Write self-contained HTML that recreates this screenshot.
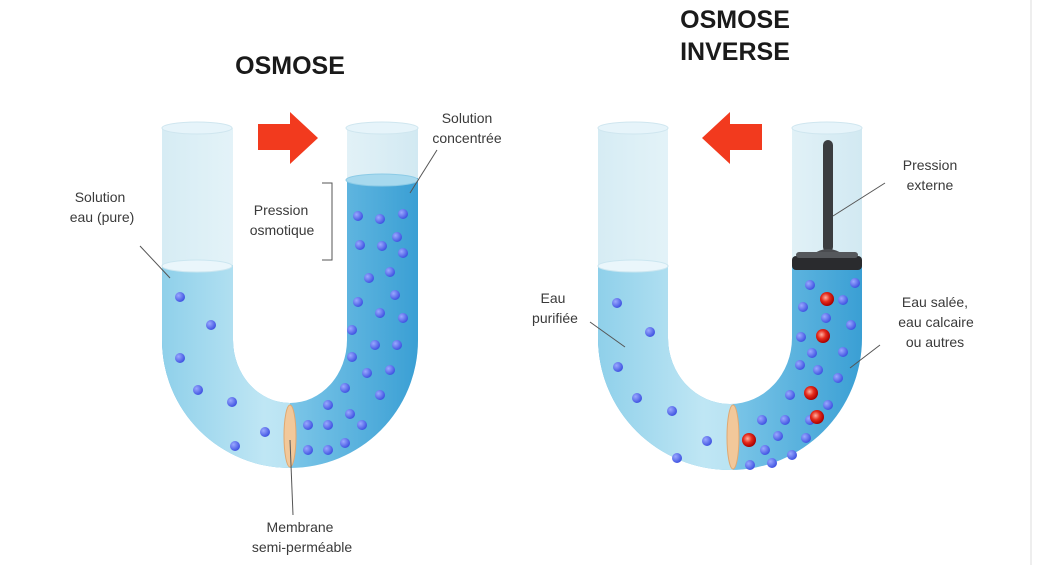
<!DOCTYPE html>
<html><head><meta charset="utf-8"><style>
html,body{margin:0;padding:0;background:#fff;}
svg{display:block}
.t{font-family:"Liberation Sans Narrow","Liberation Sans",sans-serif;font-size:14px;fill:#3a3a3a;text-anchor:middle}
.h{font-family:"Liberation Sans",sans-serif;font-weight:bold;font-size:25px;fill:#1a1a1a;text-anchor:middle}
</style></head><body>
<svg width="1040" height="565" viewBox="0 0 1040 565">
<defs>
<linearGradient id="glass" x1="0" x2="1">
<stop offset="0" stop-color="#d6ecf4"/><stop offset="0.5" stop-color="#eef8fb"/><stop offset="1" stop-color="#d2e9f2"/>
</linearGradient>
<linearGradient id="wl" x1="0" x2="1">
<stop offset="0" stop-color="#8fd0ea"/><stop offset="0.4" stop-color="#bfe6f4"/><stop offset="1" stop-color="#9fd6ec"/>
</linearGradient>
<linearGradient id="wr" x1="0" x2="1">
<stop offset="0" stop-color="#4fb0de"/><stop offset="0.5" stop-color="#7cc6e8"/><stop offset="1" stop-color="#3a9fd4"/>
</linearGradient>
<radialGradient id="dot" cx="0.35" cy="0.35" r="0.7"><stop offset="0" stop-color="#9aa8ff"/><stop offset="1" stop-color="#3b4fe0"/></radialGradient>
<radialGradient id="red" cx="0.4" cy="0.4" r="0.6"><stop offset="0" stop-color="#ffb0a0"/><stop offset="0.5" stop-color="#e52b1c"/><stop offset="1" stop-color="#a00"/></radialGradient>
<clipPath id="cl1"><rect x="0" y="265" width="290" height="300"/><rect x="290" y="178" width="200" height="400"/></clipPath>
<clipPath id="cl2"><rect x="500" y="265" width="233" height="300"/><rect x="733" y="265" width="200" height="400"/></clipPath>
<clipPath id="cll1"><rect x="0" y="0" width="290" height="565"/></clipPath>
<clipPath id="cll2"><rect x="500" y="0" width="233" height="565"/></clipPath>
</defs>

<g>
<path d="M162 128 V340 A128 128 0 0 0 418 340 V128 H347 V340 A57 63 0 0 1 233 340 V128 Z" fill="url(#glass)"/>
<g clip-path="url(#cl1)">
<path d="M162 128 V340 A128 128 0 0 0 418 340 V128 H347 V340 A57 63 0 0 1 233 340 V128 Z" fill="url(#wr)"/>
<g clip-path="url(#cll1)"><path d="M162 128 V340 A128 128 0 0 0 418 340 V128 H347 V340 A57 63 0 0 1 233 340 V128 Z" fill="url(#wl)"/></g>
</g>
<ellipse cx="197" cy="128" rx="35" ry="6" fill="#e6f4fa" stroke="#cfe6ef"/>
<ellipse cx="382" cy="128" rx="36" ry="6" fill="#e6f4fa" stroke="#cfe6ef"/>
<ellipse cx="197" cy="266" rx="35" ry="6" fill="#eaf6fb" stroke="#cbe6f0"/>
<ellipse cx="382" cy="180" rx="36" ry="6" fill="#a7d9ee" stroke="#8ccbe6"/>
<ellipse cx="290" cy="436" rx="6" ry="31" fill="#f2c89a" stroke="#e0a870"/>
</g>
<g fill="url(#dot)">
<circle cx="180" cy="297" r="5"/><circle cx="211" cy="325" r="5"/><circle cx="180" cy="358" r="5"/><circle cx="198" cy="390" r="5"/><circle cx="232" cy="402" r="5"/><circle cx="265" cy="432" r="5"/><circle cx="235" cy="446" r="5"/>
<circle cx="358" cy="216" r="5"/><circle cx="380" cy="219" r="5"/><circle cx="403" cy="214" r="5"/><circle cx="360" cy="245" r="5"/><circle cx="382" cy="246" r="5"/><circle cx="397" cy="237" r="5"/><circle cx="403" cy="253" r="5"/>
<circle cx="369" cy="278" r="5"/><circle cx="390" cy="272" r="5"/><circle cx="358" cy="302" r="5"/><circle cx="395" cy="295" r="5"/><circle cx="380" cy="313" r="5"/><circle cx="403" cy="318" r="5"/>
<circle cx="352" cy="330" r="5"/><circle cx="375" cy="345" r="5"/><circle cx="397" cy="345" r="5"/><circle cx="352" cy="357" r="5"/><circle cx="367" cy="373" r="5"/><circle cx="390" cy="370" r="5"/><circle cx="345" cy="388" r="5"/><circle cx="380" cy="395" r="5"/>
<circle cx="328" cy="405" r="5"/><circle cx="350" cy="414" r="5"/><circle cx="308" cy="425" r="5"/><circle cx="328" cy="425" r="5"/><circle cx="362" cy="425" r="5"/><circle cx="308" cy="450" r="5"/><circle cx="328" cy="450" r="5"/><circle cx="345" cy="443" r="5"/>
</g>
<polygon points="258,124 290,124 290,112 318,138 290,164 290,150 258,150" fill="#f23a1e"/>

<g>
<path d="M598 128 V338 A132 132 0 0 0 862 338 V128 H792 V338 A62 66 0 0 1 668 338 V128 Z" fill="url(#glass)"/>
<g clip-path="url(#cl2)">
<path d="M598 128 V338 A132 132 0 0 0 862 338 V128 H792 V338 A62 66 0 0 1 668 338 V128 Z" fill="url(#wr)"/>
<g clip-path="url(#cll2)"><path d="M598 128 V338 A132 132 0 0 0 862 338 V128 H792 V338 A62 66 0 0 1 668 338 V128 Z" fill="url(#wl)"/></g>
</g>
<ellipse cx="633" cy="128" rx="35" ry="6" fill="#e6f4fa" stroke="#cfe6ef"/>
<ellipse cx="827" cy="128" rx="35" ry="6" fill="#e6f4fa" stroke="#cfe6ef"/>
<ellipse cx="633" cy="266" rx="35" ry="6" fill="#eaf6fb" stroke="#cbe6f0"/>
<ellipse cx="733" cy="437" rx="6" ry="32" fill="#f2c89a" stroke="#e0a870"/>
<rect x="823" y="140" width="10" height="112" rx="5" fill="#3b3d40"/>
<path d="M808 258 Q828 240 848 258 Z" fill="#4a4c50"/>
<rect x="792" y="256" width="70" height="14" rx="4" fill="#2a2b2e"/>
<rect x="796" y="252" width="62" height="6" rx="3" fill="#55585c"/>
</g>
<g fill="url(#dot)">
<circle cx="810" cy="285" r="5"/><circle cx="855" cy="283" r="5"/><circle cx="843" cy="300" r="5"/><circle cx="803" cy="307" r="5"/><circle cx="826" cy="318" r="5"/><circle cx="851" cy="325" r="5"/>
<circle cx="801" cy="337" r="5"/><circle cx="812" cy="353" r="5"/><circle cx="843" cy="352" r="5"/><circle cx="800" cy="365" r="5"/><circle cx="818" cy="370" r="5"/><circle cx="838" cy="378" r="5"/>
<circle cx="790" cy="395" r="5"/><circle cx="828" cy="405" r="5"/><circle cx="762" cy="420" r="5"/><circle cx="785" cy="420" r="5"/><circle cx="810" cy="420" r="5"/><circle cx="778" cy="436" r="5"/><circle cx="806" cy="438" r="5"/><circle cx="765" cy="450" r="5"/><circle cx="792" cy="455" r="5"/><circle cx="750" cy="465" r="5"/><circle cx="772" cy="463" r="5"/>
<circle cx="617" cy="303" r="5"/><circle cx="650" cy="332" r="5"/><circle cx="618" cy="367" r="5"/><circle cx="637" cy="398" r="5"/><circle cx="672" cy="411" r="5"/><circle cx="707" cy="441" r="5"/><circle cx="677" cy="458" r="5"/>
</g>
<g fill="url(#red)">
<circle cx="827" cy="299" r="7"/><circle cx="823" cy="336" r="7"/><circle cx="811" cy="393" r="7"/><circle cx="817" cy="417" r="7"/><circle cx="749" cy="440" r="7"/>
</g>
<polygon points="762,124 730,124 730,112 702,138 730,164 730,150 762,150" fill="#f23a1e"/>

<g stroke="#555" stroke-width="1" fill="none">
<line x1="140" y1="246" x2="170" y2="278"/>
<line x1="437" y1="150" x2="410" y2="193"/>
<path d="M322 183 H332 V260 H322"/>
<line x1="290" y1="440" x2="293" y2="515"/>
<line x1="885" y1="183" x2="833" y2="216"/>
<line x1="590" y1="322" x2="625" y2="347"/>
<line x1="880" y1="345" x2="850" y2="368"/>
</g>

<text class="h" x="290" y="74">OSMOSE</text>
<text class="h" x="735" y="28">OSMOSE</text>
<text class="h" x="735" y="60">INVERSE</text>

<text class="t" x="100" y="202">Solution</text>
<text class="t" x="102" y="222">eau (pure)</text>
<text class="t" x="467" y="123">Solution</text>
<text class="t" x="467" y="143">concentrée</text>
<text class="t" x="281" y="215">Pression</text>
<text class="t" x="282" y="235">osmotique</text>
<text class="t" x="300" y="532">Membrane</text>
<text class="t" x="302" y="552">semi-perméable</text>
<text class="t" x="930" y="170">Pression</text>
<text class="t" x="930" y="190">externe</text>
<text class="t" x="553" y="303">Eau</text>
<text class="t" x="555" y="323">purifiée</text>
<text class="t" x="935" y="307">Eau salée,</text>
<text class="t" x="936" y="327">eau calcaire</text>
<text class="t" x="935" y="347">ou autres</text>
<line x1="1031" y1="0" x2="1031" y2="565" stroke="#eee" stroke-width="2"/>
</svg>
</body></html>
